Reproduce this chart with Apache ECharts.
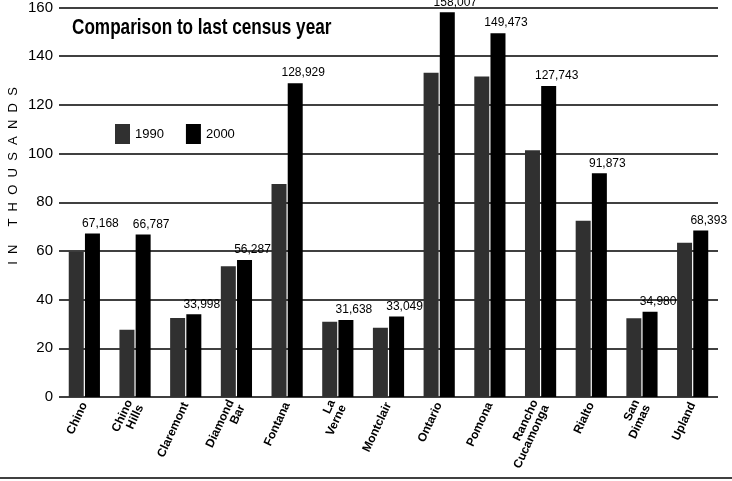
<!DOCTYPE html>
<html>
<head>
<meta charset="utf-8">
<script src="https://cdn.jsdelivr.net/npm/echarts@6/dist/echarts.min.js"></script>
<style>
html,body{margin:0;padding:0;background:#fff;}
#chart{width:732px;height:481px;}
</style>
</head>
<body>
<div id="chart"></div>
<script>
// Data (population, in thousands)
var cities = ['Chino', 'Chino\nHills', 'Claremont', 'Diamond\nBar', 'Fontana', 'La\nVerne', 'Montclair',
  'Ontario', 'Pomona', 'Rancho\nCucamonga', 'Rialto', 'San\nDimas', 'Upland'];
var pop1990 = [59.7, 27.6, 32.5, 53.7, 87.5, 30.9, 28.4, 133.2, 131.7, 101.4, 72.4, 32.4, 63.4];
var pop2000 = [67.168, 66.787, 33.998, 56.287, 128.929, 31.638, 33.049, 158.007, 149.473, 127.743, 91.873, 34.980, 68.393];
var yTicks = [0, 20, 40, 60, 80, 100, 120, 140, 160];
var seriesNames = ['1990', '2000'];
var titleText = 'Comparison to last census year';
var yName = 'I  N     T  H  O  U  S  A  N  D  S';

var chart = echarts.init(document.getElementById('chart'), null, {renderer: 'canvas'});

function fmt(v) {
  return Math.round(v * 1000).toLocaleString('en-US');
}

var option = {
  backgroundColor: '#fff',
  animation: false,
  legend: {
    data: seriesNames,
    left: 110,
    top: 119,
    icon: 'rect',
    itemWidth: 15,
    itemHeight: 20,
    itemGap: 22,
    textStyle: {
      fontFamily: '"Liberation Sans", sans-serif',
      fontSize: 13,
      color: '#000'
    }
  },
  grid: {
    left: 59,
    right: 14,
    top: 5,
    bottom: 84,
    containLabel: false
  },
  xAxis: {
    type: 'category',
    data: cities,
    axisLine: {show: false},
    axisTick: {show: false},
    axisLabel: {
      interval: 0,
      rotate: 65,
      margin: 6,
      fontSize: 12,
      lineHeight: 12,
      fontWeight: 'bold',
      fontFamily: '"Liberation Sans", sans-serif',
      color: '#000'
    }
  },
  yAxis: {
    type: 'value',
    min: yTicks[0],
    max: yTicks[yTicks.length - 1],
    interval: yTicks[1] - yTicks[0],
    axisLine: {show: false},
    axisTick: {show: false},
    axisLabel: {
      fontSize: 15,
      margin: 6,
      color: '#000',
      fontFamily: '"Liberation Sans", sans-serif'
    },
    splitLine: {
      lineStyle: {color: '#000', width: 1.5}
    }
  },
  graphic: [
    {
      type: 'text',
      x: 72,
      y: 28,
      scaleX: 0.78,
      style: {
        text: titleText,
        fontSize: 22,
        fontWeight: 'bold',
        fontFamily: '"Liberation Sans", sans-serif',
        fill: '#000',
        align: 'left',
        verticalAlign: 'middle'
      }
    },
    {
      type: 'text',
      x: 13,
      y: 176,
      rotation: Math.PI / 2,
      style: {
        text: yName,
        fontSize: 13,
        fontFamily: '"Liberation Sans", sans-serif',
        fill: '#000',
        align: 'center',
        verticalAlign: 'middle'
      }
    },
    {
      type: 'line',
      shape: {x1: 0, y1: 478, x2: 732, y2: 478},
      style: {stroke: '#000', lineWidth: 1.5}
    }
  ],
  series: [
    {
      name: seriesNames[0],
      type: 'bar',
      data: pop1990,
      barWidth: 15,
      barGap: '8%',
      itemStyle: {color: '#303030'}
    },
    {
      name: seriesNames[1],
      type: 'bar',
      data: pop2000,
      barWidth: 15,
      itemStyle: {color: '#000'},
      label: {
        show: true,
        position: 'top',
        distance: 4,
        offset: [8, 0],
        fontSize: 12,
        fontFamily: '"Liberation Sans", sans-serif',
        color: '#000',
        formatter: function (p) { return fmt(p.value); }
      }
    }
  ]
};

chart.setOption(option);
</script>
</body>
</html>
